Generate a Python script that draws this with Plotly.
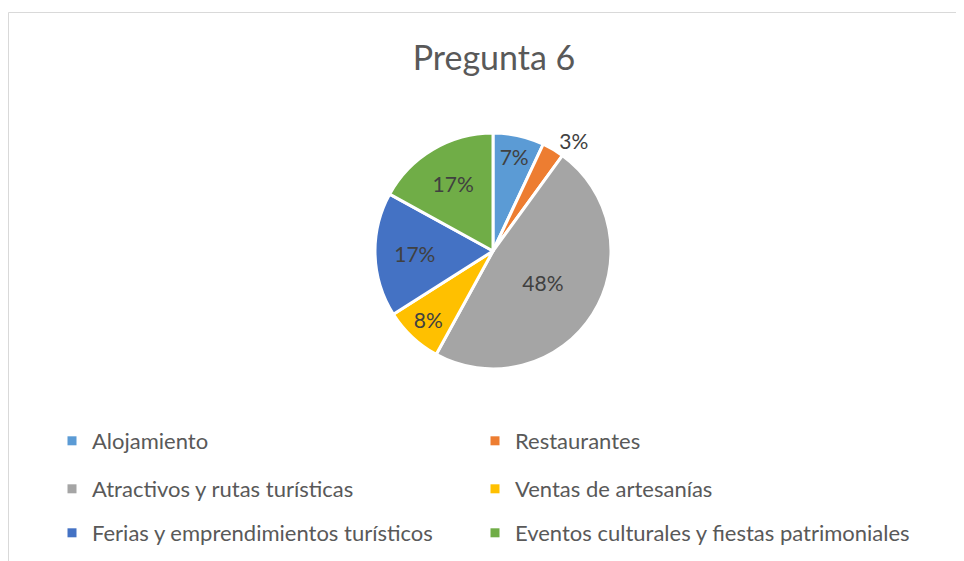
import plotly.graph_objects as go

categories = ["Alojamiento", "Restaurantes", "Atractivos y rutas turísticas",
              "Ventas de artesanías", "Ferias y emprendimientos turísticos",
              "Eventos culturales y fiestas patrimoniales"]
values = [7, 3, 48, 8, 17, 17]
colors = ["#5B9BD5", "#ED7D31", "#A5A5A5", "#FFC000", "#4472C4", "#70AD47"]
text_positions = ["inside", "outside", "inside", "inside", "inside", "inside"]

# page body has an 8px margin, so the figure is drawn 8px offset
W, H = 956, 553
FONT = "Lato"

cx, cy, r = 485, 243, 118

fig = go.Figure()
fig.add_trace(go.Pie(
    labels=categories, values=values, sort=False, direction="clockwise", rotation=0,
    marker=dict(colors=colors, line=dict(color="white", width=3)),
    texttemplate="%{value}%", textposition=text_positions,
    insidetextorientation="horizontal",
    textfont=dict(family=FONT, size=21, color="#404040"),
    domain=dict(x=[(cx - 2 * r) / W, (cx + 2 * r) / W], y=[1 - (cy + r) / H, 1 - (cy - r) / H]),
    showlegend=False, hoverinfo="label+percent",
))

legend_names = ["legend", "legend2", "legend3", "legend4", "legend5", "legend6"]
for i, (cat, col) in enumerate(zip(categories, colors)):
    fig.add_trace(go.Scatter(
        x=[None], y=[None], mode="markers", name=cat,
        marker=dict(symbol="square", size=9, color=col),
        legend=legend_names[i], showlegend=True,
    ))

row_y = [1 - 433 / H, 1 - 481 / H, 1 - 525 / H]
col_x = [44 / W, 467 / W]
leg_common = dict(orientation="h", xanchor="left", yanchor="middle",
                  font=dict(family=FONT, size=22, color="#595959"),
                  bgcolor="rgba(0,0,0,0)", itemclick=False, itemdoubleclick=False)
legends = {}
for i, name in enumerate(legend_names):
    legends[name] = dict(x=col_x[i % 2], y=row_y[i // 2], **leg_common)

fig.update_layout(
    width=W, height=H,
    margin=dict(l=0, r=0, t=0, b=0),
    paper_bgcolor="white", plot_bgcolor="white",
    title=dict(text="Pregunta 6", x=486 / W, xanchor="center", y=1 - 50 / H, yanchor="middle",
               font=dict(family=FONT, size=34, color="#595959")),
    xaxis=dict(visible=False), yaxis=dict(visible=False),
    shapes=[dict(type="rect", xref="paper", yref="paper",
                 x0=0.5 / W, x1=1.02, y0=-0.02, y1=1 - 4.5 / H,
                 line=dict(color="#D9D9D9", width=1), fillcolor="rgba(0,0,0,0)", layer="below")],
    **legends,
)

fig.write_html("out.html")
